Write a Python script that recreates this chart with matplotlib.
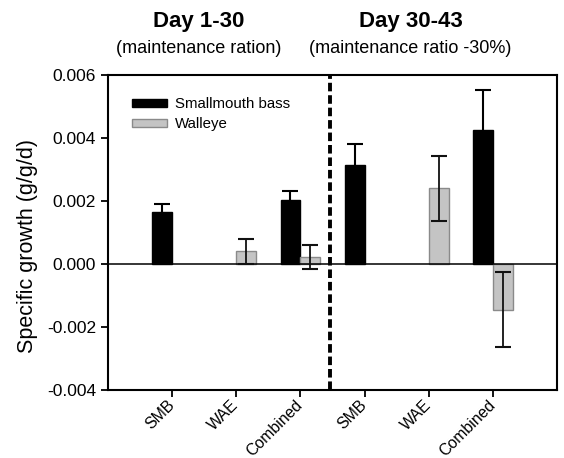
import numpy as np
import matplotlib
matplotlib.use("Agg")
import matplotlib.pyplot as plt
from matplotlib.patches import Patch

plt.rcParams['font.family'] = ['Liberation Sans', 'DejaVu Sans']
plt.rcParams['axes.unicode_minus'] = False

categories = ["SMB", "WAE", "Combined", "SMB", "WAE", "Combined"]
smb_values = [0.00164, np.nan, 0.00203, 0.00313, np.nan, 0.00426]
smb_err = [0.00026, np.nan, 0.00029, 0.00068, np.nan, 0.00127]
wae_values = [np.nan, 0.00040, 0.00023, np.nan, 0.00241, -0.00145]
wae_err = [np.nan, 0.00039, 0.00038, np.nan, 0.00103, 0.00120]
yticks = [-0.004, -0.002, 0.000, 0.002, 0.004, 0.006]
divider = 3.46
period_titles = ["Day 1-30", "Day 30-43"]
period_subtitles = ["(maintenance ration)", "(maintenance ratio -30%)"]
series_names = ["Smallmouth bass", "Walleye"]

fig = plt.figure(figsize=(5.64, 4.58), dpi=100)
ax = fig.add_axes([0.1915, 0.1485, 0.7961, 0.6877])

x = np.arange(1, len(categories) + 1)
w = 0.31
black = "#000000"
grey_fill = "#c4c4c4"
grey_edge = "#8a8a8a"

ax.bar(x, smb_values, width=-w, align='edge', color=black, edgecolor=black, zorder=2)
ax.bar(x, wae_values, width=w, align='edge', color=grey_fill, edgecolor=grey_edge, linewidth=1, zorder=2)
ax.errorbar(x - w / 2, smb_values, yerr=smb_err, fmt='none', ecolor='black',
            elinewidth=1.5, capsize=5.5, capthick=1.5, zorder=3)
ax.errorbar(x + w / 2, wae_values, yerr=wae_err, fmt='none', ecolor='#111111',
            elinewidth=1.3, capsize=5.5, capthick=1.5, zorder=3)

ax.axhline(0, color='black', linewidth=1.1, zorder=2.5)
ax.axvline(divider, color='black', linewidth=2.8, linestyle=(0, (2.2, 1.0)), zorder=4)

ax.set_xlim(0, 7)
ax.set_ylim(-0.004, 0.006)
ax.set_yticks(yticks)
ax.set_yticklabels([f"{v:.3f}" for v in yticks], fontsize=12.5)
ax.set_xticks(x)
ax.set_xticklabels(categories, rotation=45, ha='right', va='center',
                   rotation_mode='anchor', fontsize=11.4)
ax.tick_params(axis='both', direction='out', length=5, width=1.3)
ax.tick_params(axis='x', pad=4)
for s in ax.spines.values():
    s.set_linewidth(1.5)

ax.set_ylabel("Specific growth (g/g/d)", fontsize=15.5)
ax.yaxis.set_label_coords(-0.155, 0.457)

handles = [Patch(facecolor=black, edgecolor=black),
           Patch(facecolor=grey_fill, edgecolor=grey_edge)]
ax.legend(handles, series_names, loc='upper left', frameon=False, fontsize=10.8,
          bbox_to_anchor=(0.053, 0.93), borderaxespad=0, borderpad=0,
          handlelength=2.33, handleheight=0.45, labelspacing=0.42, handletextpad=0.55)

fig.text(0.353, 0.952, period_titles[0], ha='center', va='center', fontsize=16, fontweight='bold')
fig.text(0.353, 0.895, period_subtitles[0], ha='center', va='center', fontsize=13)
fig.text(0.729, 0.952, period_titles[1], ha='center', va='center', fontsize=16, fontweight='bold')
fig.text(0.727, 0.895, period_subtitles[1], ha='center', va='center', fontsize=13)

fig.savefig("out.png", dpi=100)
